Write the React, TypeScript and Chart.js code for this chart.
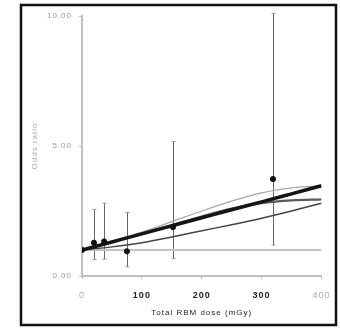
import React, { useEffect, useRef } from "react";
import { Chart, registerables } from "chart.js";

Chart.register(...registerables);

// Observed odds ratios by dose group, with 95% confidence limits
const doseGroups = [0, 20, 37, 75, 152, 319];
const oddsRatios = [1.0, 1.28, 1.33, 0.95, 1.88, 3.73];
const ciLower = [null, 0.63, 0.65, 0.35, 0.68, 1.19];
const ciUpper = [null, 2.56, 2.8, 2.44, 5.17, 10.1];

// Fitted dose-response models (dose in mGy -> odds ratio)
const fitDoses = [0, 50, 100, 150, 200, 250, 300, 350, 400];
const linearFit = [1.0, 1.31, 1.62, 1.93, 2.24, 2.55, 2.85, 3.16, 3.47];
const upperCurve = [1.0, 1.34, 1.69, 2.09, 2.5, 2.88, 3.2, 3.39, 3.47];
const plateauCurve = [1.0, 1.31, 1.63, 1.96, 2.29, 2.59, 2.8, 2.91, 2.95];
const lowerCurve = [1.0, 1.12, 1.28, 1.5, 1.74, 1.97, 2.22, 2.5, 2.8];
const referenceLine = [1.0, 1.0];
const referenceDoses = [0, 400];

const xTicks = [0, 100, 200, 300, 400];
const yTicks = [0, 5, 10];

const pts = (xs: number[], ys: (number | null)[]) =>
  xs.map((x, i) => ({ x, y: ys[i] as number }));

const FONT = "'Liberation Sans', Arial, sans-serif";

const errorBars = {
  id: "errorBars",
  beforeDatasetsDraw(chart: any) {
    const { ctx, scales } = chart;
    const xs = scales.x;
    const ys = scales.y;
    ctx.save();
    ctx.lineWidth = 1;
    doseGroups.forEach((d, i) => {
      const lo = ciLower[i];
      const hi = ciUpper[i];
      if (lo == null || hi == null) return;
      const px = Math.round(xs.getPixelForValue(d)) + 0.5;
      const y1 = ys.getPixelForValue(lo);
      const y2 = ys.getPixelForValue(hi);
      ctx.strokeStyle = "#666";
      ctx.beginPath();
      ctx.moveTo(px, y1);
      ctx.lineTo(px, y2);
      ctx.stroke();
      ctx.strokeStyle = "#999";
      ctx.beginPath();
      ctx.moveTo(px - 2, y1);
      ctx.lineTo(px + 2, y1);
      ctx.moveTo(px - 2, y2);
      ctx.lineTo(px + 2, y2);
      ctx.stroke();
    });
    ctx.restore();
  },
};

const frameAndSpacing = {
  id: "frameAndSpacing",
  beforeDraw(chart: any) {
    const ctx = chart.ctx;
    ctx.fillStyle = "#fff";
    ctx.fillRect(0, 0, chart.width, chart.height);
    ctx.letterSpacing = "1px";
  },
  afterDraw(chart: any) {
    const ctx = chart.ctx;
    ctx.save();
    ctx.strokeStyle = "#111";
    ctx.lineWidth = 2.5;
    ctx.strokeRect(21, 5, 315, 320);
    ctx.restore();
  },
};

export default function App() {
  const ref = useRef<HTMLCanvasElement | null>(null);

  useEffect(() => {
    if (!ref.current) return;
    const line = (data: any, color: string, width: number, order: number) => ({
      type: "line" as const,
      data,
      borderColor: color,
      borderWidth: width,
      pointRadius: 0,
      fill: false,
      cubicInterpolationMode: "monotone" as const,
      order,
    });
    const chart = new Chart(ref.current, {
      type: "line",
      data: {
        datasets: [
          {
            type: "scatter",
            data: pts(doseGroups, oddsRatios),
            backgroundColor: "#111",
            borderColor: "#111",
            pointRadius: 2.6,
            showLine: false,
            order: 0,
          } as any,
          line(pts(fitDoses, linearFit), "#151515", 3.5, 1),
          line(pts(fitDoses, plateauCurve), "#5a5a5a", 2.2, 2),
          line(pts(fitDoses, upperCurve), "#a8a8a8", 1.3, 3),
          line(pts(fitDoses, lowerCurve), "#444", 1.5, 4),
          line(pts(referenceDoses, referenceLine), "#c4c4c4", 2, 5),
        ],
      },
      options: {
        animation: false,
        responsive: false,
        devicePixelRatio: 1,
        layout: { padding: { top: 16, right: 18, left: 0, bottom: 0 } },
        plugins: { legend: { display: false }, tooltip: { enabled: false } },
        scales: {
          x: {
            type: "linear",
            min: 0,
            max: 400,
            afterBuildTicks: (s: any) => {
              s.ticks = xTicks.map((v) => ({ value: v }));
            },
            afterFit: (s: any) => {
              s.height = 53;
            },
            border: { display: true, color: "#c0c0c0", width: 2 },
            grid: { drawOnChartArea: false, color: "#c0c0c0", tickLength: 3 },
            ticks: {
              padding: 11,
              maxRotation: 0,
              color: (c: any) =>
                c.index === 0 || c.index === xTicks.length - 1 ? "#aaa" : "#222",
              font: (c: any) => ({
                family: FONT,
                size: 9,
                weight:
                  c.index === 0 || c.index === xTicks.length - 1 ? "normal" : "bold",
              }),
            },
            title: {
              display: true,
              text: "Total RBM dose (mGy)",
              color: "#222",
              font: { family: FONT, size: 8 },
              padding: { top: 0, bottom: 11 },
            },
          },
          y: {
            type: "linear",
            min: 0,
            max: 10,
            afterBuildTicks: (s: any) => {
              s.ticks = yTicks.map((v) => ({ value: v }));
            },
            afterFit: (s: any) => {
              s.width = 82;
            },
            border: { display: true, color: "#c0c0c0", width: 2 },
            grid: { drawOnChartArea: false, color: "#c0c0c0", tickLength: 3 },
            ticks: {
              padding: 7,
              color: "#999",
              font: { family: FONT, size: 8 },
              callback: (v: any) => Number(v).toFixed(2),
            },
            title: {
              display: true,
              text: "Odds ratio",
              color: "#aaa",
              font: { family: FONT, size: 8 },
              padding: { top: 30, bottom: 0 },
            },
          },
        },
      },
      plugins: [errorBars, frameAndSpacing],
    });
    return () => chart.destroy();
  }, []);

  return (
    <div style={{ position: "absolute", left: 0, top: 0, width: 340, height: 329 }}>
      <canvas ref={ref} width={340} height={329} />
    </div>
  );
}
